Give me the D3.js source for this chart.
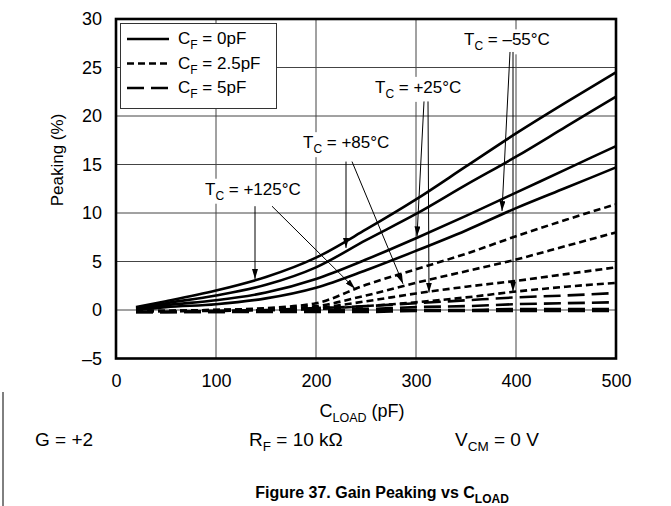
<!DOCTYPE html>
<html>
<head>
<meta charset="utf-8">
<script src="https://cdn.jsdelivr.net/npm/d3@7"></script>
<style>
  html, body { margin: 0; padding: 0; background: #fff; }
  svg { display: block; }
  text { font-family: "Liberation Sans", Arial, Helvetica, sans-serif; fill: #000; }
</style>
</head>
<body>
<svg id="chart" width="671" height="506"></svg>
<script>
// ---------- data ----------
const loads = [20, 50, 100, 150, 200, 250, 300, 350, 400, 450, 500];        // C_LOAD (pF)
const xTicks = [0, 100, 200, 300, 400, 500];
const yTicks = [-5, 0, 5, 10, 15, 20, 25, 30];
const yTickLabels = ["–5", "0", "5", "10", "15", "20", "25", "30"];

// C_F = 0 pF (solid)
const cf0_125 = [0.3, 0.9, 2.0, 3.4, 5.4, 8.3, 11.4, 14.8, 18.2, 21.4, 24.5];
const cf0_85  = [0.2, 0.7, 1.5, 2.6, 4.4, 7.2, 9.9, 12.9, 15.8, 18.9, 22.0];
const cf0_25  = [0.1, 0.5, 1.0, 1.8, 3.2, 5.2, 7.4, 9.7, 12.1, 14.5, 16.9];
const cf0_m55 = [0.0, 0.3, 0.6, 1.2, 2.3, 4.1, 6.1, 8.2, 10.5, 12.6, 14.7];
// C_F = 2.5 pF (short dash)
const cf25_125 = [-0.1, -0.1, 0.0, 0.2, 0.7, 2.6, 4.2, 5.8, 7.6, 9.3, 10.9];
const cf25_85  = [-0.1, -0.1, 0.0, 0.1, 0.4, 1.5, 2.8, 4.0, 5.2, 6.6, 8.0];
const cf25_25  = [-0.1, -0.1, 0.0, 0.0, 0.2, 0.9, 1.7, 2.4, 3.0, 3.7, 4.4];
const cf25_m55 = [-0.1, -0.1, -0.1, 0.0, 0.1, 0.4, 0.8, 1.3, 1.9, 2.4, 2.8];
// C_F = 5 pF (long dash)
const cf5_125 = [-0.2, -0.2, -0.1, 0.0, 0.2, 0.4, 0.7, 1.0, 1.3, 1.5, 1.75];
const cf5_85  = [-0.2, -0.2, -0.1, -0.1, 0.0, 0.1, 0.3, 0.4, 0.6, 0.7, 0.8];
const cf5_25  = [-0.2, -0.2, -0.2, -0.1, -0.1, 0.0, 0.0, 0.0, 0.1, 0.1, 0.1];
const cf5_m55 = [-0.2, -0.2, -0.2, -0.2, -0.2, -0.2, -0.1, -0.1, -0.1, -0.1, -0.1];

const legendLabels = ["0pF", "2.5pF", "5pF"];
const tempLabels = ["+125°C", "+85°C", "+25°C", "–55°C"];
// label anchor (pF, %) and arrows [fromPF, from%, toPF, to%]
const labelPos = [[89, 12.4], [187, 17.2], [259, 22.9], [348, 27.8]];
const arrows125 = [[139, 10.7, 139, 3.2], [156, 10.7, 239, 2.2]];
const arrows85  = [[230, 15.3, 230, 6.4], [236, 15.3, 287, 2.7]];
const arrows25  = [[308, 21.5, 301, 7.6], [312, 21.5, 313, 1.8]];
const arrowsM55 = [[394, 26.6, 386, 10.2], [397, 26.6, 397, 1.9]];

// ---------- layout ----------
const svg = d3.select("#chart");
const x = d3.scaleLinear().domain([0, 500]).range([116, 616]);
const y = d3.scaleLinear().domain([-5, 30]).range([358.5, 19]);

const styles = [
  { dash: null },
  { dash: "7,4" },
  { dash: "17,7" }
];
const seriesGroups = [
  [cf0_125, cf0_85, cf0_25, cf0_m55],
  [cf25_125, cf25_85, cf25_25, cf25_m55],
  [cf5_125, cf5_85, cf5_25, cf5_m55]
];

// grid
const grid = svg.append("g");
grid.selectAll(".gx").data(xTicks.slice(1, -1)).enter().append("line")
  .attr("x1", d => x(d)).attr("x2", d => x(d))
  .attr("y1", y(30)).attr("y2", y(-5))
  .attr("stroke", "#444").attr("stroke-width", 1);
grid.selectAll(".gy").data(yTicks.slice(1, -1)).enter().append("line")
  .attr("x1", x(0)).attr("x2", x(500))
  .attr("y1", d => y(d)).attr("y2", d => y(d))
  .attr("stroke", "#444").attr("stroke-width", 1);

// curves
const line = d3.line().x((d, i) => x(loads[i])).y(d => y(d)).curve(d3.curveMonotoneX);
seriesGroups.forEach((grp, gi) => {
  grp.forEach(vals => {
    svg.append("path").datum(vals)
      .attr("d", line)
      .attr("fill", "none")
      .attr("stroke", "#000")
      .attr("stroke-width", 2.6)
      .attr("stroke-dasharray", styles[gi].dash);
  });
});

// frame
svg.append("rect")
  .attr("x", x(0)).attr("y", y(30))
  .attr("width", x(500) - x(0)).attr("height", y(-5) - y(30))
  .attr("fill", "none").attr("stroke", "#000").attr("stroke-width", 2.6);

// axes (tick labels via d3 axes, no domain/tick lines)
const yAxis = svg.append("g").attr("transform", `translate(${x(0) - 14},0)`)
  .call(d3.axisLeft(y).tickValues(yTicks).tickSize(0).tickPadding(0)
    .tickFormat((d, i) => yTickLabels[i]));
yAxis.select(".domain").remove();
yAxis.selectAll("text").attr("font-size", 18)
  .attr("font-family", "'Liberation Sans', Arial, sans-serif").attr("fill", "#000");

const xAxis = svg.append("g").attr("transform", `translate(0,${y(-5) + 16})`)
  .call(d3.axisBottom(x).tickValues(xTicks).tickSize(0).tickPadding(0).tickFormat(d3.format("d")));
xAxis.select(".domain").remove();
xAxis.selectAll("text").attr("font-size", 18)
  .attr("font-family", "'Liberation Sans', Arial, sans-serif").attr("fill", "#000");

// helper for text with subscripts
function richText(g, parts, size, subSize) {
  const t = g.append("text").attr("font-size", size);
  let shifted = false;
  parts.forEach(p => {
    const ts = t.append("tspan").text(p[0]);
    if (p[1] && !shifted) { ts.attr("font-size", subSize).attr("dy", 5); shifted = true; }
    else if (!p[1] && shifted) { ts.attr("dy", -5); shifted = false; }
    else if (p[1]) ts.attr("font-size", subSize);
  });
  return t;
}

// axis titles
svg.append("text").attr("font-size", 17)
  .attr("transform", "translate(63,160) rotate(-90)")
  .attr("text-anchor", "middle").text("Peaking (%)");

richText(svg, [["C"], ["LOAD", true], [" (pF)"]], 18, 12.5)
  .attr("x", 362).attr("y", 417).attr("text-anchor", "middle");

// legend
const leg = svg.append("g");
leg.append("rect").attr("x", 120.5).attr("y", 23.5).attr("width", 156).attr("height", 85)
  .attr("fill", "#fff").attr("stroke", "#333").attr("stroke-width", 1);
legendLabels.forEach((lab, i) => {
  const yy = 39 + i * 24.5;
  leg.append("line").attr("x1", 127).attr("x2", 169).attr("y1", yy).attr("y2", yy)
    .attr("stroke", "#000").attr("stroke-width", 2.6).attr("stroke-dasharray", styles[i].dash);
  richText(leg, [["C"], ["F", true], [" = " + lab]], 17, 12)
    .attr("x", 178).attr("y", yy + 5);
});

// annotations
svg.append("defs").append("marker")
  .attr("id", "ah").attr("viewBox", "0 0 10 6").attr("refX", 10).attr("refY", 3)
  .attr("markerWidth", 10).attr("markerHeight", 6).attr("markerUnits", "userSpaceOnUse")
  .attr("orient", "auto")
  .append("path").attr("d", "M0,0 L10,3 L0,6 Z").attr("fill", "#000");

const arrowSets = [arrows125, arrows85, arrows25, arrowsM55];
tempLabels.forEach((lab, i) => {
  const g = svg.append("g");
  const bg = g.append("rect").attr("fill", "#fff");
  const t = richText(g, [["T"], ["C", true], [" = " + lab]], 17, 12)
    .attr("x", x(labelPos[i][0])).attr("y", y(labelPos[i][1]) + 5);
  const bb = t.node().getBBox();
  bg.attr("x", bb.x - 2).attr("y", bb.y - 1).attr("width", bb.width + 4).attr("height", bb.height + 2);
  arrowSets[i].forEach(a => {
    svg.append("line")
      .attr("x1", x(a[0])).attr("y1", y(a[1]))
      .attr("x2", x(a[2])).attr("y2", y(a[3]))
      .attr("stroke", "#000").attr("stroke-width", 1)
      .attr("marker-end", "url(#ah)");
  });
});

// conditions
richText(svg, [["G = +2"]], 19, 13).attr("x", 35).attr("y", 446);
richText(svg, [["R"], ["F", true], [" = 10 kΩ"]], 19, 13.5).attr("x", 249).attr("y", 446);
richText(svg, [["V"], ["CM", true], [" = 0 V"]], 19, 13.5).attr("x", 455).attr("y", 446);

// caption
richText(svg, [["Figure 37. Gain Peaking vs C"], ["LOAD", true]], 16, 12)
  .attr("x", 382).attr("y", 498).attr("text-anchor", "middle").attr("font-weight", "bold");

// page border line
svg.append("line").attr("x1", 3).attr("x2", 3).attr("y1", 392).attr("y2", 506)
  .attr("stroke", "#000").attr("stroke-width", 1);
</script>
</body>
</html>
